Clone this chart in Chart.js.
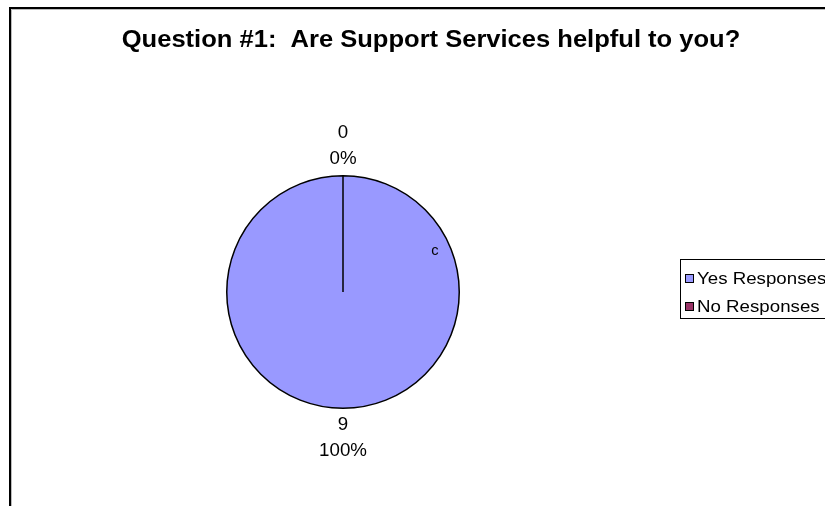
<!DOCTYPE html>
<html>
<head>
<meta charset="utf-8">
<title>Question #1</title>
<script src="https://cdn.jsdelivr.net/npm/chart.js@4/dist/chart.umd.min.js"></script>
<style>
  html, body { margin: 0; padding: 0; background: #fff; }
  #wrap { width: 825px; height: 506px; position: relative; }
</style>
</head>
<body>
<div id="wrap"><canvas id="pieChart" width="825" height="506"></canvas></div>
<script>
// Survey responses
const categories = ['Yes Responses', 'No Responses'];
const responseCounts = [9, 0];
const sliceColors = ['#9999FF', '#993366'];
const chartTitle = 'Question #1:  Are Support Services helpful to you?';
const strayLabel = 'c';

const FONT = '"Liberation Sans", Arial, sans-serif';

// text drawn a bit wider than the font's natural width
function wideText(ctx, text, x, y, sx) {
  ctx.save();
  ctx.translate(x, y);
  ctx.scale(sx, 1);
  ctx.fillText(text, 0, 0);
  ctx.restore();
}

// Outer frame, title, value labels and boxed legend
const decorations = {
  id: 'decorations',
  beforeDraw(chart) {
    const ctx = chart.ctx;
    ctx.save();
    ctx.fillStyle = '#fff';
    ctx.fillRect(0, 0, chart.width, chart.height);
    ctx.strokeStyle = '#000';
    ctx.lineWidth = 2;
    ctx.beginPath();
    ctx.moveTo(10, chart.height + 2);
    ctx.lineTo(10, 8);
    ctx.lineTo(chart.width + 2, 8);
    ctx.stroke();
    ctx.strokeStyle = '#bbb';
    ctx.lineWidth = 1;
    ctx.beginPath();
    ctx.moveTo(11.5, chart.height + 2);
    ctx.lineTo(11.5, 9.5);
    ctx.lineTo(chart.width + 2, 9.5);
    ctx.stroke();
    ctx.restore();
  },
  afterDraw(chart) {
    const ctx = chart.ctx;
    const meta = chart.getDatasetMeta(0);
    const total = responseCounts.reduce((s, v) => s + v, 0);
    ctx.save();

    // title
    ctx.fillStyle = '#000';
    ctx.font = 'bold 23px ' + FONT;
    ctx.textAlign = 'center';
    ctx.textBaseline = 'middle';
    wideText(ctx, chartTitle, 431, 41, 1.11);

    // value + percent outside each slice
    ctx.font = '18px ' + FONT;
    meta.data.forEach((arc, i) => {
      const mid = (arc.startAngle + arc.endAngle) / 2;
      const r = arc.outerRadius + 30;
      const x = arc.x + Math.cos(mid) * r;
      const y = arc.y + Math.sin(mid) * r;
      const pct = Math.round(responseCounts[i] / total * 100) + '%';
      wideText(ctx, String(responseCounts[i]), x, y - 13, 1.04);
      wideText(ctx, pct, x, y + 13, 1.04);
    });

    // small marker inside the yes slice
    const first = meta.data[0];
    ctx.font = '14px ' + FONT;
    wideText(ctx, strayLabel, first.x + 92, first.y - 41, 1.05);

    // legend box
    ctx.lineWidth = 1;
    ctx.strokeStyle = '#000';
    ctx.strokeRect(680.5, 259.5, 170, 59);
    ctx.font = '17px ' + FONT;
    ctx.textAlign = 'left';
    categories.forEach((name, i) => {
      const cy = 278 + i * 28;
      ctx.fillStyle = sliceColors[i];
      ctx.fillRect(685, cy - 4, 9, 9);
      ctx.strokeRect(685.5, cy - 3.5, 8, 8);
      ctx.fillStyle = '#000';
      wideText(ctx, name, 697, cy + 1, 1.1);
    });
    ctx.restore();
  }
};

new Chart(document.getElementById('pieChart'), {
  type: 'pie',
  data: {
    labels: categories,
    datasets: [{
      data: responseCounts,
      backgroundColor: sliceColors,
      borderColor: '#000',
      borderWidth: 1.5
    }]
  },
  options: {
    responsive: false,
    animation: false,
    rotation: 0,
    layout: {
      padding: { left: 226, right: 365, top: 175, bottom: 97 }
    },
    plugins: {
      legend: { display: false },
      title: { display: false },
      tooltip: { enabled: false }
    }
  },
  plugins: [decorations]
});
</script>
</body>
</html>
